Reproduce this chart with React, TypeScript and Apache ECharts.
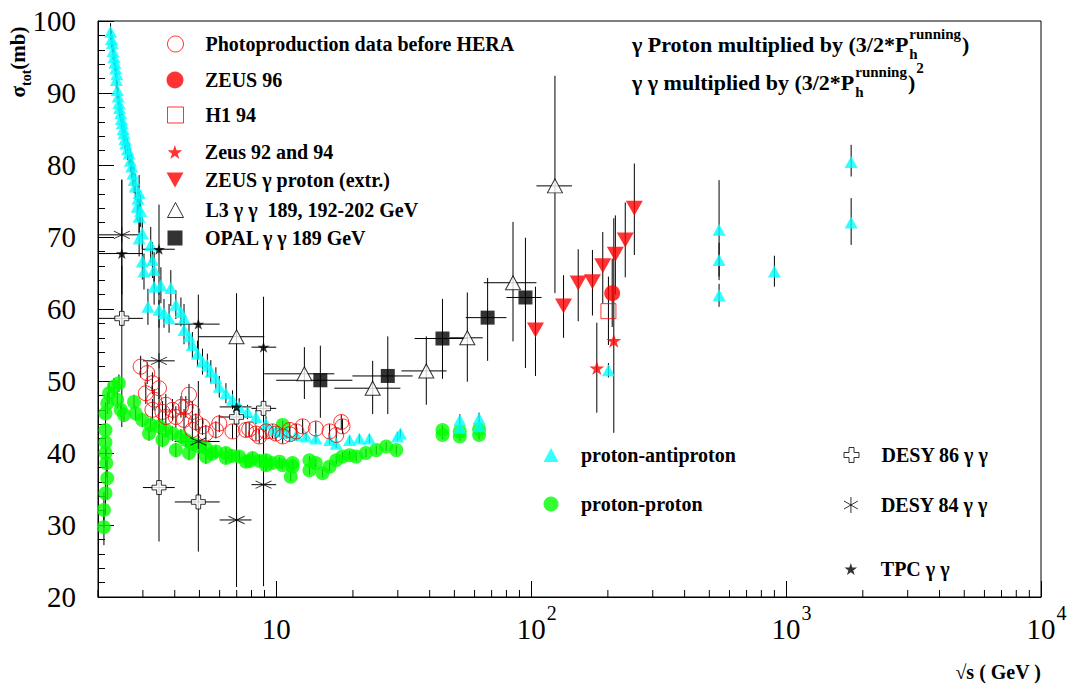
import React, { useEffect, useRef } from 'react';
import * as echarts from 'echarts';

const SERIF = 'Liberation Serif';
const RED = '#ff0000';
const CYAN = '#00ffff';
const GREEN = '#00ff00';

// proton-antiproton, low energy: [sqrt s, sigma, err]
const ppbarLow: number[][] = [
  [2.24, 98.5, 1.2], [2.26, 97.5, 1.2], [2.275, 96.9, 1.2], [2.29, 95.8, 1.2], [2.31, 95.0, 1.2],
  [2.33, 94.2, 1.2], [2.345, 93.4, 1.2], [2.36, 91.8, 1.2], [2.37, 92.6, 1.2], [2.38, 90.4, 1.2],
  [2.4, 89.5, 1.2], [2.416, 88.6, 1.3], [2.43, 87.9, 1.3], [2.455, 87.2, 1.3], [2.47, 86.4, 1.3],
  [2.49, 85.8, 1.3], [2.51, 85.0, 1.4], [2.53, 84.4, 1.4], [2.55, 83.6, 1.4], [2.57, 83.0, 1.5],
  [2.61, 82.2, 1.5], [2.646, 81.6, 1.5], [2.68, 80.6, 1.6], [2.712, 79.8, 1.6], [2.74, 78.8, 1.7],
  [2.77, 77.9, 1.8], [2.8, 77.0, 1.8], [2.9, 76.1, 2.5], [2.85, 74.2, 2.0], [2.87, 75.3, 2.0],
  [2.9, 72.8, 2.2], [2.94, 73.6, 2.2], [2.985, 70.5, 2.2], [3.22, 68.9, 2.5], [2.9, 69.8, 2.5],
  [2.985, 66.6, 2.5], [3.03, 65.2, 2.5], [3.27, 66.8, 2.5], [3.32, 65.4, 2.5], [3.32, 63.1, 2.5],
  [3.53, 63.3, 2.5], [3.86, 62.9, 2.5], [3.14, 60.3, 2.5], [3.47, 59.9, 2.5], [3.63, 59.4, 2.0],
  [3.8, 58.7, 2.0], [4.04, 60.6, 2.0], [4.23, 59.6, 2.0], [4.35, 58.7, 2.0], [4.35, 57.1, 2.0],
  [4.55, 56.2, 1.8], [4.69, 55.0, 1.8], [4.91, 53.8, 1.8], [5.14, 52.7, 1.8], [5.37, 52.2, 1.6],
  [5.54, 51.3, 1.6], [5.8, 50.4, 1.5], [5.98, 49.2, 1.5], [6.35, 48.3, 1.4], [6.74, 47.4, 1.3],
  [7.16, 46.4, 1.2], [7.72, 45.7, 1.0], [8.33, 45.0, 1.0], [9.12, 44.1, 1.0], [9.68, 43.2, 0.8],
  [10.3, 43.0, 0.8], [11.0, 42.8, 0.8], [12.0, 42.5, 0.8], [13.1, 42.3, 0.6], [14.3, 42.0, 0.6],
  [16.2, 41.8, 0.6], [17.2, 41.3, 0.6], [19.4, 41.8, 0.6], [21.2, 42.0, 0.6], [23.2, 42.0, 0.6],
  [29.9, 42.3, 0.6], [30.7, 42.7, 0.6], [52.5, 44.6, 0.8], [52.5, 43.5, 0.8], [62.5, 44.8, 0.8],
  [62.5, 43.7, 0.8], [201, 51.5, 1.0],
];

// proton-antiproton, collider energies: [sqrt s, sigma, low, high]
const ppbarHigh: number[][] = [
  [546, 71.0, 64.0, 77.9], [546, 66.8, 64.5, 69.2], [546, 61.9, 60.3, 63.5],
  [900, 65.2, 63.1, 67.4], [1800, 80.4, 78.4, 82.8], [1800, 72.0, 68.9, 75.4],
];

// proton-proton: [sqrt s, sigma, err]
const ppData: number[][] = [
  [2.11, 29.7, 2.5], [2.11, 32.1, 2.5], [2.14, 34.4, 3], [2.175, 36.5, 3], [2.155, 38.6, 2],
  [2.14, 40.0, 2], [2.14, 41.5, 1.5], [2.14, 43.2, 1.5], [2.14, 45.5, 1.5], [2.175, 46.9, 1.5],
  [2.21, 48.3, 1.5], [2.31, 49.2, 1.2], [2.416, 49.7, 1.2], [2.38, 47.4, 1.2], [2.455, 46.0, 1.0],
  [2.53, 45.3, 1.0], [2.77, 47.1, 1.0], [2.81, 45.5, 1.0], [2.985, 44.6, 1.0], [3.17, 42.7, 1.0],
  [3.22, 43.9, 1.0], [3.47, 43.7, 1.0], [3.58, 41.8, 1.0], [3.69, 43.2, 1.0], [3.92, 42.7, 1.0],
  [4.04, 40.4, 1.0], [4.23, 42.3, 1.0], [4.42, 41.8, 1.0], [4.55, 40.0, 1.0], [4.69, 41.3, 1.0],
  [4.99, 40.9, 1.0], [5.3, 40.7, 1.0], [5.3, 39.5, 1.0], [5.6, 39.9, 0.8], [5.8, 40.2, 0.8],
  [6.35, 40.0, 0.8], [6.35, 39.3, 0.8], [6.7, 39.6, 0.8], [7.16, 39.5, 0.8], [7.61, 38.8, 0.8],
  [7.9, 38.9, 0.8], [8.08, 39.3, 0.8], [8.6, 38.9, 0.8], [9.12, 39.0, 0.8], [9.12, 38.3, 0.8],
  [9.6, 38.6, 0.8], [10.3, 38.8, 0.6], [10.6, 38.3, 0.6], [11.6, 38.6, 0.6], [11.6, 38.1, 0.6],
  [11.4, 36.7, 0.6], [10.6, 43.9, 0.6], [13.5, 39.0, 0.6], [13.5, 37.6, 0.6], [14.3, 38.6, 0.6],
  [15.2, 37.2, 0.6], [16.2, 38.1, 0.6], [17.2, 39.0, 0.6], [18.2, 39.5, 0.6], [19.4, 39.7, 0.6],
  [20.6, 39.5, 0.6], [22.5, 40.0, 0.6], [24.7, 40.4, 0.6], [27.0, 40.9, 0.6], [29.6, 40.4, 0.6],
  [44.9, 42.5, 0.6], [44.9, 43.2, 0.6], [52.5, 42.3, 0.6], [52.5, 43.0, 0.6], [62.5, 42.5, 0.6],
  [62.5, 43.3, 0.6],
];

// photoproduction before HERA: [sqrt s, sigma, err]
const photoData: number[][] = [
  [2.94, 52.0, 1.5], [3.12, 51.1, 1.5], [3.27, 49.7, 1.5], [3.47, 49.0, 1.5], [3.08, 48.3, 1.5],
  [3.32, 47.4, 1.5], [3.69, 46.7, 1.5], [3.27, 46.0, 1.5], [3.58, 45.7, 1.5], [3.92, 46.0, 1.5],
  [4.23, 46.4, 1.5], [4.55, 48.1, 1.5], [4.42, 46.4, 1.5], [4.69, 45.7, 1.5], [4.04, 45.0, 1.5],
  [4.35, 44.6, 1.5], [3.69, 45.0, 1.5], [4.84, 44.3, 1.2], [5.14, 43.7, 1.2], [4.69, 43.2, 1.2],
  [5.3, 42.7, 1.2], [5.8, 43.2, 1.2], [5.98, 44.1, 1.2], [6.74, 43.0, 1.0], [7.61, 43.2, 1.0],
  [7.84, 43.3, 1.0], [8.33, 42.7, 1.0], [8.58, 42.3, 1.0], [9.12, 43.0, 1.0], [9.68, 43.0, 1.0],
  [9.98, 42.7, 1.0], [10.6, 42.3, 1.0], [11.3, 42.6, 1.0], [11.3, 43.2, 1.0], [12.0, 43.0, 1.0],
  [12.7, 43.7, 1.0], [14.3, 43.4, 1.0], [16.2, 43.0, 1.0], [17.2, 42.5, 1.0], [18.0, 44.3, 1.0],
  [18.2, 43.7, 1.0],
];

// [sqrt s, sigma, low, high]
const zeus96: number[][] = [[208, 62.2, 57.5, 67.0]];
const h1_94: number[][] = [[201, 59.7, 55.0, 64.5]];
const zeus9294: number[][] = [[181, 51.8, 45.6, 58.1], [211, 55.6, 42.8, 72.6]];
const zeusExtr: number[][] = [
  [104, 57.1, 50.7, 63.1], [134, 60.4, 56.0, 64.7], [153, 63.6, 58.3, 68.3], [174, 63.8, 59.1, 68.2],
  [191, 66.0, 60.8, 70.7], [214, 67.6, 62.0, 73.0], [234, 69.6, 64.4, 74.8], [254, 74.0, 67.5, 80.2],
];

// [W, sigma, low, high, W low, W high]
const l3: number[][] = [
  [6.99, 56.15, 50.0, 62.2, 4.94, 8.98], [12.9, 51.0, 47.5, 54.7, 8.98, 16.9],
  [23.9, 49.0, 45.4, 52.8, 16.9, 30.7], [38.8, 51.4, 46.7, 56.2, 31.0, 46.6],
  [56.2, 56.0, 49.9, 62.3, 47.9, 64.6], [84.9, 63.65, 55.5, 72.1, 65.2, 104.9],
  [124, 77.1, 62.2, 92.4, 104.9, 144.6],
];
const opal: number[][] = [
  [14.9, 50.1, 44.9, 54.9, 10.0, 19.9], [27.4, 50.7, 45.4, 56.2, 19.9, 34.3],
  [44.9, 55.9, 50.3, 61.4, 34.9, 56.4], [67.5, 58.8, 52.8, 64.3, 55.4, 80.0],
  [95.0, 61.6, 51.8, 69.9, 80.0, 109.9],
];
const desy86: number[][] = [
  [2.48, 58.7, 43.6, 66.0, 2, 3], [3.47, 35.2, 27.7, 44.0, 3, 4], [4.95, 33.2, 26.3, 40.0, 4, 6],
  [6.99, 45.0, 39.0, 51.0, 6, 8], [8.92, 46.2, 40.0, 52.0, 8, 10],
];
const desy84: number[][] = [
  [2.48, 70.3, 62.0, 78.0, 2, 3], [3.47, 52.8, 44.6, 61.25, 3, 4], [4.95, 41.6, 34.0, 50.0, 4, 6],
  [6.99, 30.7, 21.4, 42.0, 6, 8], [8.92, 35.6, 21.5, 47.0, 8, 10],
];
const tpc: number[][] = [
  [2.48, 67.7, 57.7, 77.9, 2, 3], [3.47, 68.3, 62.0, 74.5, 3, 4], [4.95, 57.9, 53.0, 62.0, 4, 6],
  [6.99, 46.4, 41.5, 51.5, 6, 8], [8.92, 54.7, 48.0, 61.7, 8, 10],
];

const xMinorTicks: number[] = [
  2, 3, 4, 5, 6, 7, 8, 9, 20, 30, 40, 50, 60, 70, 80, 90,
  200, 300, 400, 500, 600, 700, 800, 900, 2000, 3000, 4000, 5000, 6000, 7000, 8000, 9000,
];
const X_MIN = 2;
const X_MAX = 10000;
const Y_MIN = 20;
const Y_MAX = 100;
const Y_STEP = 10;

const STAR = 'path://M0,-10L2.245,-3.09L9.51,-3.09L3.633,1.18L5.88,8.09L0,3.82L-5.88,8.09L-3.633,1.18L-9.51,-3.09L-2.245,-3.09Z';
const DOWN_TRI = 'path://M0,0L2,0L1,1.75Z';
const CROSS = 'path://M1,0H2V1H3V2H2V3H1V2H0V1H1Z';
const ASTER = 'path://M0,-1V1M-0.866,-0.5L0.866,0.5M-0.866,0.5L0.866,-0.5';
const NONE = 'rgba(0,0,0,0)';

const symErr = (r: number[]) => [r[0], r[1], r[1] - r[2], r[1] + r[2], r[0], r[0]];
const loHiErr = (r: number[]) => [r[0], r[1], r[2], r[3], r[0], r[0]];
const xy = (r: number[]) => [r[0], r[1]];

function buildOption() {
  const errRows = [
    ...ppData.map(symErr), ...ppbarLow.map(symErr), ...ppbarHigh.map(loHiErr), ...photoData.map(symErr),
    ...zeusExtr.map(loHiErr), ...zeus96.map(loHiErr), ...h1_94.map(loHiErr), ...zeus9294.map(loHiErr),
    ...l3, ...opal, ...desy86, ...desy84, ...tpc,
  ];

  const scatter = (name: string, data: number[][], symbol: string, size: number | number[], itemStyle: any) => ({
    type: 'scatter', name, data: data.map(xy), symbol, symbolSize: size, itemStyle, silent: true,
  });

  const legendItems = [
    { name: 'Photoproduction data before HERA', cx: 175, cy: 44, icon: 'circle', size: [16, 16], style: { color: NONE, borderColor: RED, borderWidth: 1 } },
    { name: 'ZEUS 96', cx: 175, cy: 80, icon: 'circle', size: [17, 17], style: { color: RED, borderWidth: 0 } },
    { name: 'H1 94', cx: 175, cy: 115, icon: 'rect', size: [16, 16], style: { color: NONE, borderColor: RED, borderWidth: 1 } },
    { name: 'Zeus 92 and 94', cx: 175, cy: 152, icon: STAR, size: [15, 14], style: { color: RED, borderWidth: 0 } },
    { name: 'ZEUS γ proton (extr.)', cx: 175, cy: 180, icon: DOWN_TRI, size: [17, 15], style: { color: RED, borderWidth: 0 } },
    { name: 'L3 γ γ  189, 192-202 GeV', cx: 175, cy: 210, icon: 'triangle', size: [16, 15], style: { color: '#fff', borderColor: '#000', borderWidth: 1 } },
    { name: 'OPAL γ γ 189 GeV', cx: 175, cy: 238, icon: 'rect', size: [15, 15], style: { color: '#000', borderWidth: 0 } },
    { name: 'proton-antiproton', cx: 551, cy: 455, icon: 'triangle', size: [15, 14], style: { color: CYAN, borderWidth: 0 } },
    { name: 'proton-proton', cx: 551, cy: 504, icon: 'circle', size: [15, 15], style: { color: GREEN, borderWidth: 0 } },
    { name: 'DESY 86 γ γ', cx: 851, cy: 455, icon: CROSS, size: [15, 15], style: { color: '#fff', borderColor: '#000', borderWidth: 1 } },
    { name: 'DESY 84 γ γ', cx: 851, cy: 505, icon: ASTER, size: [15, 16], style: { color: NONE, borderColor: '#000', borderWidth: 1 } },
    { name: 'TPC γ γ', cx: 851, cy: 569, icon: STAR, size: [13, 12], style: { color: '#000', borderWidth: 0 } },
  ];

  const legend = legendItems.map((it) => {
    const [w, h] = it.size;
    return {
      data: [{ name: it.name, icon: it.icon }],
      left: it.cx - w / 2,
      top: it.cy - Math.max(h, 20) / 2,
      padding: 0,
      itemWidth: w,
      itemHeight: h,
      selectedMode: false,
      itemStyle: it.style,
      textStyle: {
        fontFamily: SERIF, fontWeight: 'bold', fontSize: 20, lineHeight: 20, color: '#000',
        padding: [0, 0, 0, 25 - w / 2],
      },
    };
  });

  // header text layout
  const ctx = document.createElement('canvas').getContext('2d')!;
  const bigFont = `bold 22px "${SERIF}"`;
  const smallFont = `bold 15px "${SERIF}"`;
  const line1 = 'γ Proton multiplied by (3/2*P';
  const line2 = 'γ γ multiplied by (3/2*P';
  ctx.font = bigFont;
  const w1 = ctx.measureText(line1).width;
  const w2 = ctx.measureText(line2).width;
  const wp = ctx.measureText(')').width;
  ctx.font = smallFont;
  const wr = ctx.measureText('running').width;
  const X0 = 632;
  const big = { fontFamily: SERIF, fontWeight: 'bold', fontSize: 22, fill: '#000', verticalAlign: 'middle' };
  const small = { fontFamily: SERIF, fontWeight: 'bold', fontSize: 15, fill: '#000', verticalAlign: 'middle' };
  const header = [
    { type: 'text', x: X0, y: 44, style: { ...big, text: line1 } },
    { type: 'text', x: X0 + w1 + 1, y: 34, style: { ...small, text: 'running' } },
    { type: 'text', x: X0 + w1 + 1, y: 54, style: { ...small, text: 'h' } },
    { type: 'text', x: X0 + w1 + 2 + wr, y: 44, style: { ...big, text: ')' } },
    { type: 'text', x: X0, y: 82, style: { ...big, text: line2 } },
    { type: 'text', x: X0 + w2 + 1, y: 72, style: { ...small, text: 'running' } },
    { type: 'text', x: X0 + w2 + 1, y: 92, style: { ...small, text: 'h' } },
    { type: 'text', x: X0 + w2 + 2 + wr, y: 82, style: { ...big, text: ')' } },
    { type: 'text', x: X0 + w2 + 3 + wr + wp, y: 68, style: { ...small, text: '2' } },
  ];

  return {
    animation: false,
    backgroundColor: '#fff',
    textStyle: { fontFamily: SERIF },
    grid: { left: 98, right: 37, top: 21, bottom: 101, show: true, borderColor: '#000', borderWidth: 1, backgroundColor: 'transparent' },
    xAxis: {
      type: 'log', logBase: 10, min: X_MIN, max: X_MAX,
      axisLine: { show: true, lineStyle: { color: '#000', width: 1 } },
      axisTick: { show: true, inside: true, length: 16, lineStyle: { color: '#000', width: 1 } },
      minorTick: { show: false },
      splitLine: { show: false },
      axisLabel: {
        margin: 6,
        color: '#000',
        fontFamily: SERIF,
        formatter: (v: number) => {
          const e = Math.log10(v);
          const n = Math.round(e);
          if (Math.abs(e - n) > 1e-6) return '';
          if (n === 1) return '{b|10}';
          return `{bp|10}{s|${n}}`;
        },
        rich: {
          b: { fontFamily: SERIF, fontSize: 29, lineHeight: 52, color: '#000' },
          bp: { fontFamily: SERIF, fontSize: 29, lineHeight: 52, color: '#000', padding: [0, 0, 0, 11] },
          s: { fontFamily: SERIF, fontSize: 20, color: '#000', verticalAlign: 'top', padding: [0, 0, 0, 1] },
        },
      },
    },
    yAxis: {
      type: 'value', min: Y_MIN, max: Y_MAX, interval: Y_STEP,
      axisLine: { show: true, lineStyle: { color: '#000', width: 1 } },
      axisTick: { show: true, inside: true, length: 16, lineStyle: { color: '#000', width: 1 } },
      minorTick: { show: true, splitNumber: 5, length: 7, lineStyle: { color: '#000', width: 1 } },
      splitLine: { show: false },
      axisLabel: {
        margin: 22, color: '#000', fontSize: 29,
        formatter: (v: number) => `{n|${v}}`,
        rich: { n: { fontFamily: SERIF, fontSize: 29, fontWeight: 'normal', color: '#000' } },
      },
    },
    legend,
    graphic: [
      ...header,
      {
        type: 'text', x: 21, y: 62, rotation: Math.PI / 2,
        style: {
          text: '{a|σ}{b|tot}{a|(mb)}', align: 'center', verticalAlign: 'middle',
          rich: {
            a: { fontFamily: SERIF, fontWeight: 'bold', fontSize: 21, lineHeight: 24, verticalAlign: 'bottom', padding: [0, 0, 5, 0], fill: '#000' },
            b: { fontFamily: SERIF, fontWeight: 'bold', fontSize: 14, lineHeight: 14, verticalAlign: 'bottom', fill: '#000' },
          },
        },
      },
      {
        type: 'text', x: 1041, y: 672,
        style: { text: '√s ( GeV )', fontFamily: SERIF, fontWeight: 'bold', fontSize: 20, fill: '#000', align: 'right', verticalAlign: 'middle' },
      },
    ],
    series: [
      {
        type: 'custom', name: 'errors', silent: true, clip: true,
        data: errRows, encode: { x: 0, y: 1 },
        renderItem: (_p: any, api: any) => {
          const x = api.value(0), y = api.value(1);
          const lo = api.value(2), hi = api.value(3), xl = api.value(4), xh = api.value(5);
          const children: any[] = [];
          if (hi > lo) {
            const a = api.coord([x, lo]); const b = api.coord([x, hi]);
            children.push({ type: 'line', shape: { x1: a[0], y1: a[1], x2: b[0], y2: b[1] }, style: { stroke: '#000', lineWidth: 1 } });
          }
          if (xh > xl) {
            const a = api.coord([xl, y]); const b = api.coord([xh, y]);
            children.push({ type: 'line', shape: { x1: a[0], y1: a[1], x2: b[0], y2: b[1] }, style: { stroke: '#000', lineWidth: 1 } });
          }
          return { type: 'group', children };
        },
      },
      scatter('proton-proton', ppData, 'circle', 14, { color: GREEN }),
      scatter('proton-antiproton', [...ppbarLow, ...ppbarHigh], 'triangle', [13, 12], { color: CYAN }),
      scatter('Photoproduction data before HERA', photoData, 'circle', 15, { color: NONE, borderColor: RED, borderWidth: 1 }),
      scatter('ZEUS γ proton (extr.)', zeusExtr, DOWN_TRI, [17, 15], { color: RED }),
      scatter('H1 94', h1_94, 'rect', 15, { color: NONE, borderColor: RED, borderWidth: 1 }),
      scatter('ZEUS 96', zeus96, 'circle', 16, { color: RED }),
      scatter('Zeus 92 and 94', zeus9294, STAR, [15, 14], { color: RED }),
      scatter('L3 γ γ  189, 192-202 GeV', l3, 'triangle', [15, 14], { color: '#fff', borderColor: '#000', borderWidth: 1 }),
      scatter('OPAL γ γ 189 GeV', opal, 'rect', 14, { color: '#000' }),
      scatter('DESY 86 γ γ', desy86, CROSS, 14, { color: '#fff', borderColor: '#000', borderWidth: 1 }),
      scatter('DESY 84 γ γ', desy84, ASTER, [16, 15], { color: NONE, borderColor: '#000', borderWidth: 1 }),
      scatter('TPC γ γ', tpc, STAR, [12, 11], { color: '#000' }),
      {
        type: 'custom', name: 'minorTicks', silent: true, z: 10,
        data: xMinorTicks.map((v) => [v, Y_MIN]), encode: { x: 0, y: 1 },
        renderItem: (_p: any, api: any) => {
          const c = api.coord([api.value(0), Y_MIN]);
          return { type: 'line', shape: { x1: c[0], y1: c[1], x2: c[0], y2: c[1] - 7 }, style: { stroke: '#000', lineWidth: 1 } };
        },
      },
    ],
  };
}

export default function App() {
  const ref = useRef<HTMLDivElement>(null);
  useEffect(() => {
    document.body.style.margin = '0';
    const chart = echarts.init(ref.current!, undefined, { renderer: 'svg' });
    chart.setOption(buildOption() as any);
    return () => chart.dispose();
  }, []);
  return <div ref={ref} style={{ width: 1078, height: 698, background: '#fff' }} />;
}
